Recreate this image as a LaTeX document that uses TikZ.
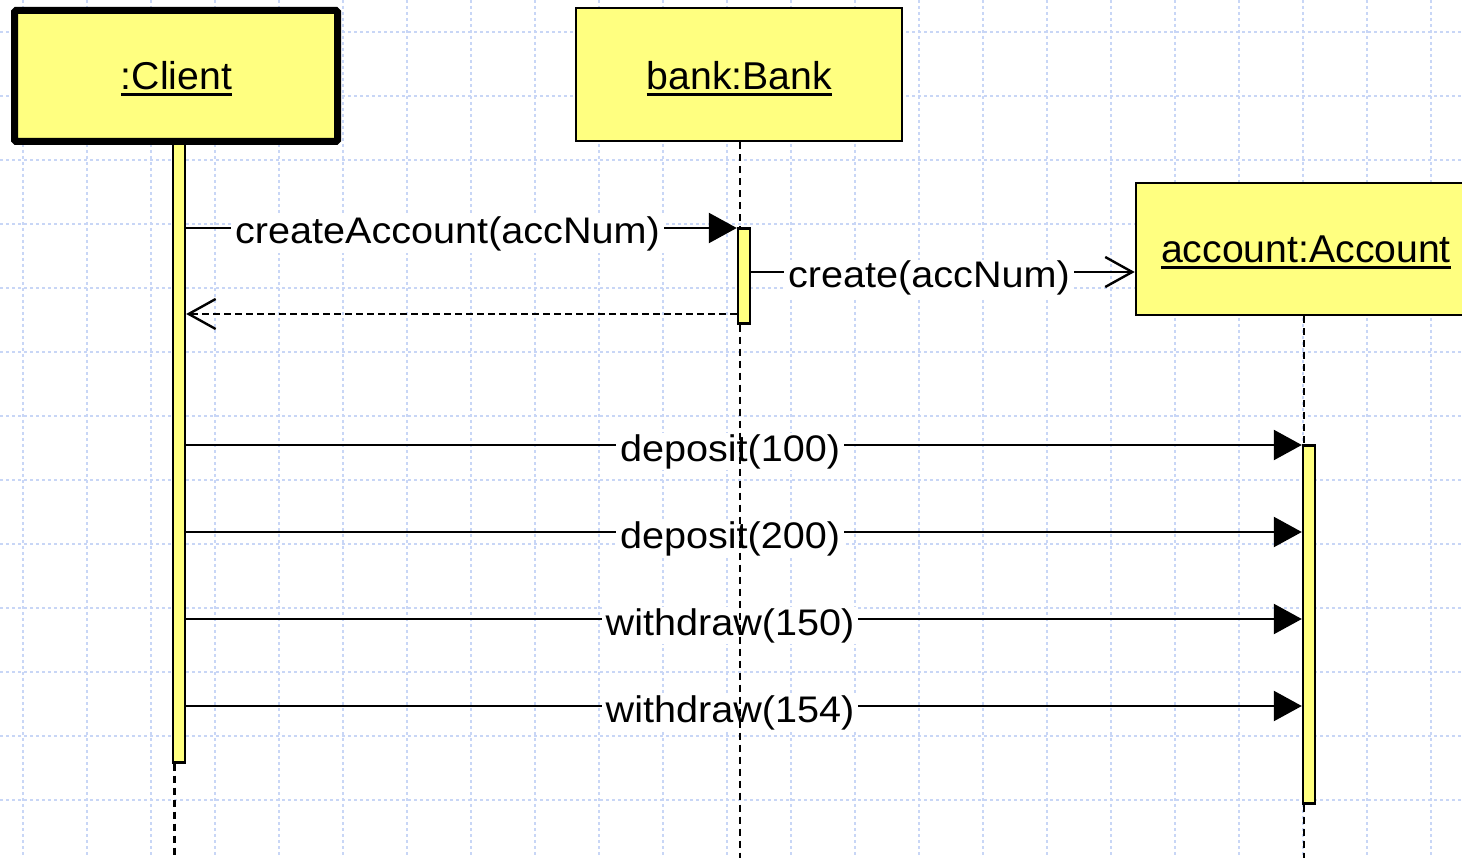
\documentclass[tikz,border=0pt]{standalone}
\usepackage{fontspec}
\setmainfont{Liberation Sans}
\newfontfamily\msgfont[FakeStretch=1.07]{Liberation Sans}
\newfontfamily\hdrfont[FakeStretch=1.01]{Liberation Sans}
\usetikzlibrary{arrows.meta,calc}
\definecolor{objfill}{RGB}{255,255,128}
\definecolor{gridblue}{RGB}{200,214,246}

\begin{document}
\begin{tikzpicture}[x=1pt,y=-1pt,
  gridline/.style={gridblue, line width=1.3pt, dash pattern=on 3pt off 3pt},
  objbox/.style={draw, fill=objfill, line width=2.6pt, inner sep=0pt},
  actorbox/.style={objbox, line width=7pt, rounded corners=1.5pt},
  objname/.style={font=\hdrfont\fontsize{38.8}{44}\selectfont, inner sep=0pt, anchor=base},
  nameline/.style={line width=3pt},
  lifeline/.style={line width=2.4pt, dash pattern=on 7pt off 5pt},
  actbar/.style={draw, fill=objfill, line width=2.4pt, inner sep=0pt, minimum width=12pt},
  call/.style={line width=2.4pt, -{Triangle[length=28pt,width=30pt]}},
  newobj/.style={line width=2.4pt, -{Straight Barb[length=27pt,width=30pt]}},
  reply/.style={line width=2.4pt, dash pattern=on 7pt off 4pt, -{Straight Barb[length=27pt,width=30pt]}},
  msglabel/.style={font=\msgfont\fontsize{37}{42}\selectfont, fill=white, inner xsep=4pt, inner ysep=1pt, anchor=base, yshift=-16pt},
]
\path[use as bounding box, clip] (0,0) rectangle (1462,858);

% background grid
\foreach \x in {23,87,...,1431} \draw[gridline] (\x,0) -- (\x,858);
\foreach \y in {32,96,...,800} \draw[gridline] (0,\y) -- (1462,\y);

% object heads
\node[actorbox, minimum width=323pt, minimum height=131pt] (client) at (176,76) {};
\node[objbox, minimum width=326pt, minimum height=133pt] (bank) at (739,74.5) {};
\node[objbox, minimum width=336pt, minimum height=132pt] (account) at (1304,249) {};

\node[objname] (clientname) at (176.5,90) {:Client};
\node[objname] (bankname) at (739.5,90) {bank:Bank};
\node[objname] (accountname) at (1306,263) {account:Account};
\foreach \n in {clientname,bankname,accountname}
  \draw[nameline] ([yshift=-5pt]\n.base west) -- ([yshift=-5pt]\n.base east);

% activation bars
\node[actbar, minimum height=619pt] (clientbar) at (179,453) {};
\node[actbar, minimum height=95pt] (bankbar) at (744,276) {};
\node[actbar, minimum height=358pt] (accountbar) at (1309,624.5) {};

% lifelines
\coordinate (clientfoot) at (174.5,858);
\coordinate (bankfoot) at (740,858);
\coordinate (accountfoot) at (1304,858);
\draw[lifeline] (clientfoot |- clientbar.south) -- (clientfoot);
\draw[lifeline] (bankfoot |- bank.south) -- (bankfoot |- bankbar.north);
\draw[lifeline] (accountfoot |- account.south) -- (accountfoot |- accountbar.north);

% message rows
\coordinate (m1) at (0,228);
\coordinate (m2) at (0,272);
\coordinate (m3) at (0,314);
\coordinate (m4) at (0,445);
\coordinate (m5) at (0,532);
\coordinate (m6) at (0,619);
\coordinate (m7) at (0,706);

\draw[call] (clientbar.east |- m1) -- node[msglabel, pos=0.4746] {createAccount(accNum)} (bankbar.west |- m1);
\draw[newobj] (bankbar.east |- m2) -- node[msglabel, pos=0.4636] {create(accNum)} (account.west |- m2);
\draw[reply] (bankbar.west |- m3) -- (clientbar.east |- m3);
\draw[call] (clientbar.east |- m4) -- node[msglabel, pos=0.4875] {deposit(100)} (accountbar.west |- m4);
\draw[call] (clientbar.east |- m5) -- node[msglabel, pos=0.4875] {deposit(200)} (accountbar.west |- m5);
\draw[call] (clientbar.east |- m6) -- node[msglabel, pos=0.4875] {withdraw(150)} (accountbar.west |- m6);
\draw[call] (clientbar.east |- m7) -- node[msglabel, pos=0.4875] {withdraw(154)} (accountbar.west |- m7);

% bank lifeline passes over the message labels
\draw[lifeline] (bankfoot |- bankbar.south) -- (bankfoot);
\draw[lifeline] (accountfoot |- accountbar.south) -- (accountfoot);
\end{tikzpicture}
\end{document}
